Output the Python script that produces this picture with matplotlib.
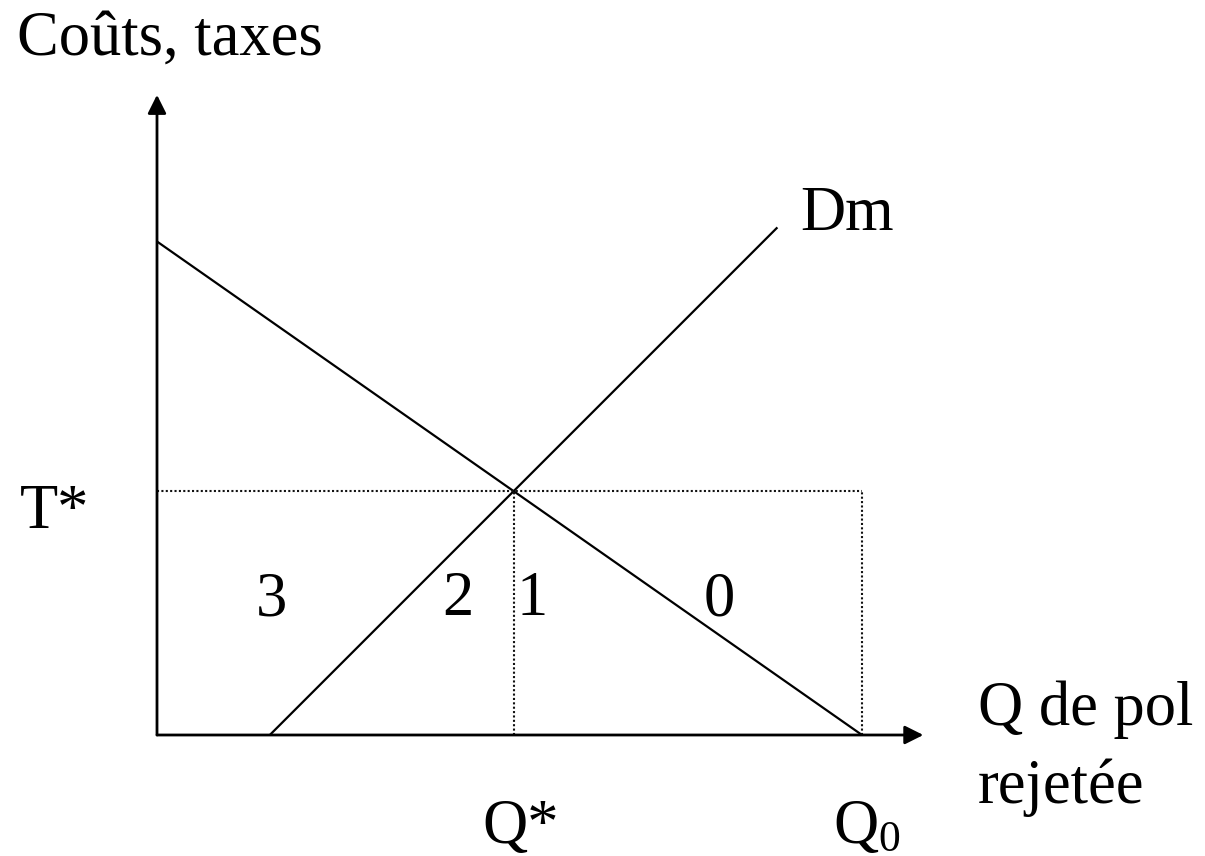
import matplotlib
matplotlib.use('Agg')
import matplotlib.pyplot as plt
import numpy as np

plt.rcParams['font.family'] = ['Liberation Serif', 'DejaVu Serif']
plt.rcParams['mathtext.fontset'] = 'custom'
plt.rcParams['mathtext.rm'] = 'Liberation Serif'
plt.rcParams['mathtext.it'] = 'Liberation Serif'

# model in chart units
q0 = 10.0               # Q0, demand line hits the x axis
demand_top = 7.0        # demand line on the y axis
dm_start = 1.6          # Dm line leaves the x axis
dm_slope = 1.0
dm_end = 8.8
x_axis_end = 10.87
y_axis_end = 9.08
region_labels = ['3', '2', '1', '0']
region_x = [1.4, 4.05, 5.1, 7.75]

# intersection -> Q*, T*
q_star = (demand_top + dm_slope * dm_start) / (dm_slope + demand_top / q0)
t_star = demand_top - demand_top / q0 * q_star

# canvas: 1205x856 px, 70.5 px per unit, origin at (157, 735)
scale = 70.5
W, H = 1205, 856
ox, oy = 157, 735

fig = plt.figure(figsize=(W / 100, H / 100), dpi=100)
ax = fig.add_axes([0, 0, 1, 1])
ax.set_xlim(-ox / scale, (W - ox) / scale)
ax.set_ylim(-(H - oy) / scale, oy / scale)
ax.axis('off')

# axes with arrows
arrow = dict(arrowstyle='-|>,head_length=0.8,head_width=0.4', mutation_scale=14,
             lw=2, color='black', shrinkA=0, shrinkB=0)
ax.annotate('', xy=(x_axis_end, 0), xytext=(0, 0), arrowprops=arrow)
ax.annotate('', xy=(0, y_axis_end), xytext=(0, 0), arrowprops=arrow)

# curves
ax.plot([0, q0], [demand_top, 0], color='black', lw=1.6, solid_capstyle='butt')
ax.plot([dm_start, dm_end], [0, dm_slope * (dm_end - dm_start)], color='black', lw=1.6,
        solid_capstyle='butt')

# dotted guides
dot = dict(color='#111111', lw=1.5, linestyle=(0, (1, 1.1)))
ax.plot([0, q0], [t_star, t_star], **dot)
ax.plot([q_star, q_star], [0, t_star], **dot)
ax.plot([q0, q0], [0, t_star], **dot)


def px(x, y):
    return (x - ox) / scale, (oy - y) / scale


fs = 45
ax.text(*px(17, 55), 'Coûts, taxes', fontsize=fs, va='baseline', ha='left')
ax.text(*px(20, 528), 'T*', fontsize=fs, va='baseline', ha='left')
ax.text(*px(800, 230), 'Dm', fontsize=fs, va='baseline', ha='left')
ax.text(*px(978, 725), 'Q de pol', fontsize=fs, va='baseline', ha='left')
ax.text(*px(978, 803), 'rejetée', fontsize=fs, va='baseline', ha='left')
ax.text(*px(482, 843), 'Q*', fontsize=fs, va='baseline', ha='left')
ax.text(*px(833, 843), r'Q$_\mathrm{0}$', fontsize=fs, va='baseline', ha='left')
for lab, xr in zip(region_labels, region_x):
    ax.text(xr, px(0, 615)[1], lab, fontsize=fs, va='baseline', ha='left')

fig.savefig('out.png', dpi=100, facecolor='white')
